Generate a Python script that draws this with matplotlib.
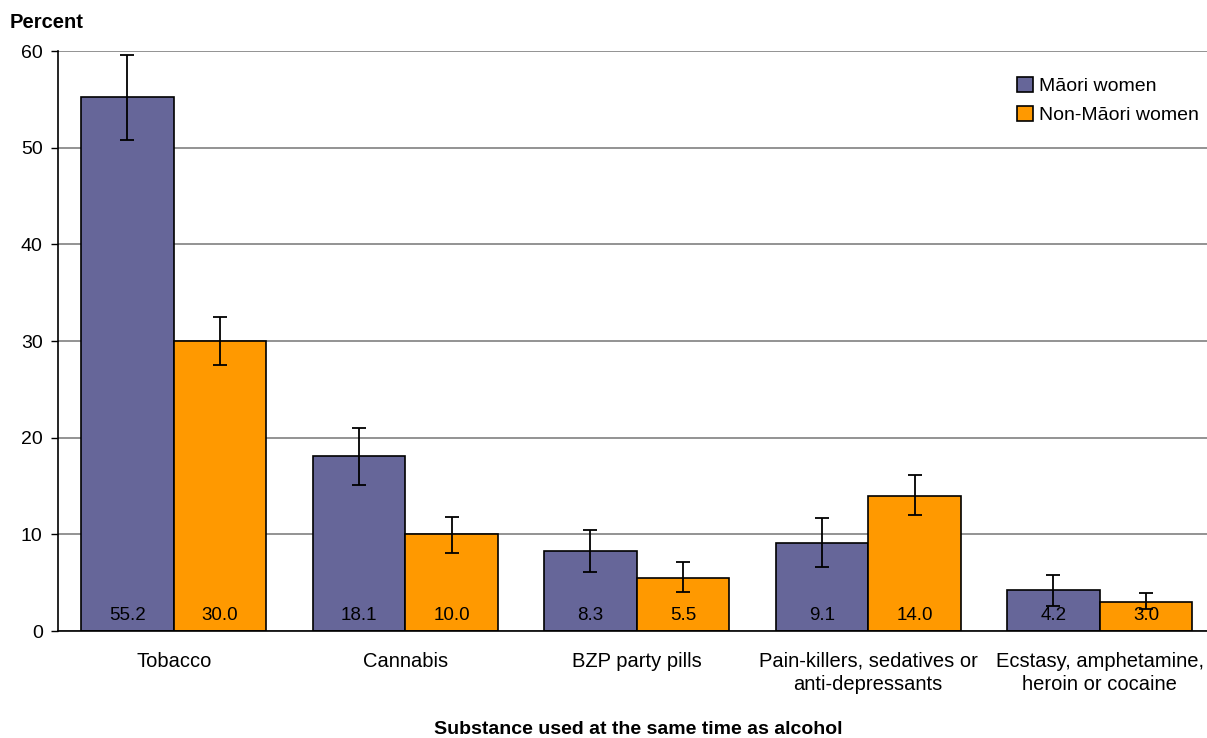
import numpy as np
import matplotlib
matplotlib.use("Agg")
import matplotlib.pyplot as plt

plt.rcParams['font.family'] = ['Liberation Sans', 'DejaVu Sans']

categories = ["Tobacco", "Cannabis", "BZP party pills",
              "Pain-killers, sedatives or\nanti-depressants",
              "Ecstasy, amphetamine,\nheroin or cocaine"]
maori = [55.2, 18.1, 8.3, 9.1, 4.2]
maori_lo = [50.8, 15.1, 6.1, 6.6, 2.6]
maori_hi = [59.6, 21.0, 10.4, 11.7, 5.8]
nonmaori = [30.0, 10.0, 5.5, 14.0, 3.0]
nonmaori_lo = [27.5, 8.1, 4.0, 12.0, 2.3]
nonmaori_hi = [32.5, 11.8, 7.1, 16.1, 3.9]

W, H = 1207, 738
fig = plt.figure(figsize=(W / 100, H / 100), dpi=100)
ax = fig.add_axes([58 / W, 1 - 631 / H, (1207 - 58) / W, (631 - 51) / H])

x = np.arange(len(categories))
bw = 0.4
m = np.array(maori)
n = np.array(nonmaori)
merr = [m - np.array(maori_lo), np.array(maori_hi) - m]
nerr = [n - np.array(nonmaori_lo), np.array(nonmaori_hi) - n]

ax.bar(x - bw / 2, m, bw, color='#666699', edgecolor='black', linewidth=1.2,
       label='Māori women', zorder=2)
ax.bar(x + bw / 2, n, bw, color='#FF9900', edgecolor='black', linewidth=1.2,
       label='Non-Māori women', zorder=2)
ax.errorbar(x - bw / 2, m, yerr=merr, fmt='none', ecolor='black',
            elinewidth=1.3, capsize=5, capthick=1.3, zorder=3)
ax.errorbar(x + bw / 2, n, yerr=nerr, fmt='none', ecolor='black',
            elinewidth=1.3, capsize=5, capthick=1.3, zorder=3)

for xi, v in zip(x - bw / 2, m):
    ax.text(xi, 1.6, f"{v:.1f}", ha='center', va='center', fontsize=13.5, zorder=4)
for xi, v in zip(x + bw / 2, n):
    ax.text(xi, 1.6, f"{v:.1f}", ha='center', va='center', fontsize=13.5, zorder=4)

ax.set_ylim(0, 60)
ax.set_xlim(-0.5, 4.5 - 8.5 / 231.5)
ax.set_yticks(range(0, 61, 10))
ax.yaxis.grid(True, color='#808080', linewidth=1.2, zorder=0)
ax.set_axisbelow(True)
ax.set_xticks(x)
ax.set_xticklabels(categories, fontsize=14.5, linespacing=1.3)
ax.tick_params(axis='x', length=0, pad=15)
ax.tick_params(axis='y', labelsize=14, length=5, width=1, pad=6)
for s in ['top', 'right']:
    ax.spines[s].set_visible(False)
ax.spines['left'].set_linewidth(1.2)
ax.spines['bottom'].set_linewidth(1.2)

fig.text(10 / W, 1 - 22 / H, "Percent", fontsize=14.5, fontweight='bold',
         ha='left', va='center')
fig.text(638 / W, 1 - 730 / H, "Substance used at the same time as alcohol",
         fontsize=14, fontweight='bold', ha='center', va='center')

ax.legend(loc='upper right', bbox_to_anchor=(1.008, 0.985), frameon=False,
          fontsize=14, handlelength=0.8, handleheight=0.8,
          handletextpad=0.3, labelspacing=0.55)

fig.savefig("out.png", dpi=100)
